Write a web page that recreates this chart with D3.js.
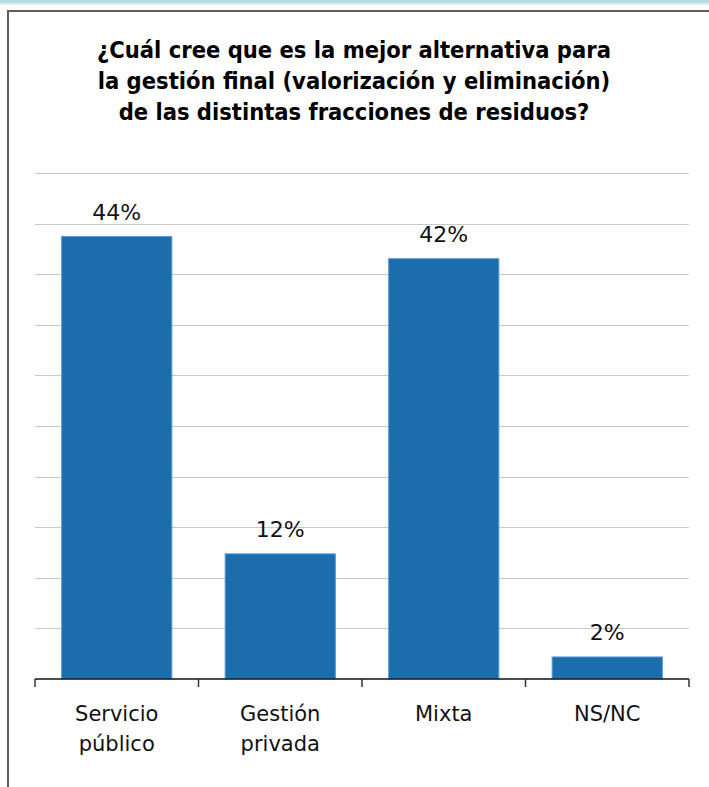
<!DOCTYPE html>
<html>
<head>
<meta charset="utf-8">
<script src="https://cdn.jsdelivr.net/npm/d3@7"></script>
<style>
  html, body { margin: 0; padding: 0; background: #fff; }
  svg { display: block; }
</style>
</head>
<body>
<svg id="chart" width="709" height="787"></svg>
<script>
// ---- data ----
const categories = [["Servicio", "público"], ["Gestión", "privada"], ["Mixta"], ["NS/NC"]];
const values = [43.8, 12.4, 41.6, 2.2];
const titleLines = [
  "¿Cuál cree que es la mejor alternativa para",
  "la gestión final (valorización y eliminación)",
  "de las distintas fracciones de residuos?"
];
const gridTicks = [5, 10, 15, 20, 25, 30, 35, 40, 45, 50];

// ---- layout ----
const W = 709, H = 787;
const svg = d3.select("#chart");

// top strip
svg.append("rect").attr("x", 0).attr("y", 0).attr("width", W).attr("height", 3).attr("fill", "#b3dcdf");
svg.append("rect").attr("x", 0).attr("y", 3).attr("width", W).attr("height", 2).attr("fill", "#e4eeef");

// frame
svg.append("path")
  .attr("d", `M8,${H} L8,11 L${W},11`)
  .attr("fill", "none").attr("stroke", "#5e5e5e").attr("stroke-width", 2);

const x = d3.scaleBand()
  .domain(d3.range(categories.length))
  .range([35, 689])
  .paddingInner(0.32)
  .paddingOuter(0.16);

const y = d3.scaleLinear().domain([0, 50]).range([678.7, 173.3]);

// gridlines
svg.append("g").selectAll("line").data(gridTicks).join("line")
  .attr("x1", 35).attr("x2", 689)
  .attr("y1", d => Math.round(y(d)) + 0.5).attr("y2", d => Math.round(y(d)) + 0.5)
  .attr("stroke", "#c9c9c9").attr("stroke-width", 1);

// bars
svg.append("g").selectAll("rect").data(values).join("rect")
  .attr("x", (d, i) => x(i) + 0.5)
  .attr("y", d => y(d) + 0.5)
  .attr("width", x.bandwidth() - 1)
  .attr("height", d => y(0) - y(d) - 0.5)
  .attr("fill", "#1b6dac")
  .attr("stroke", "#5b97d6")
  .attr("stroke-width", 1);

// value labels
const fmt = d => d3.format(".0f")(d) + "%";
svg.append("g").selectAll("text").data(values).join("text")
  .attr("x", (d, i) => x(i) + x.bandwidth() / 2)
  .attr("y", d => y(d) - 16)
  .attr("text-anchor", "middle")
  .attr("font-family", "DejaVu Sans, Verdana, sans-serif")
  .attr("font-size", 22)
  .attr("fill", "#111")
  .text(fmt);

// x axis
const xAxisScale = d3.scalePoint().domain(d3.range(categories.length + 1)).range([35, 689]);
const axisG = svg.append("g");
axisG.append("line")
  .attr("x1", 35).attr("x2", 689)
  .attr("y1", 679).attr("y2", 679)
  .attr("stroke", "#111").attr("stroke-width", 1.5);
axisG.selectAll("line.tick").data(xAxisScale.domain()).join("line")
  .attr("class", "tick")
  .attr("x1", d => xAxisScale(d)).attr("x2", d => xAxisScale(d))
  .attr("y1", 679).attr("y2", 687)
  .attr("stroke", "#333").attr("stroke-width", 1.5);

// category labels
const catG = svg.append("g").selectAll("text").data(categories).join("text")
  .attr("x", (d, i) => x(i) + x.bandwidth() / 2)
  .attr("y", 721)
  .attr("text-anchor", "middle")
  .attr("font-family", "DejaVu Sans, Verdana, sans-serif")
  .attr("font-size", 21)
  .attr("fill", "#111");
catG.each(function(d, i) {
  const t = d3.select(this);
  d.forEach((line, k) => {
    t.append("tspan")
      .attr("x", x(i) + x.bandwidth() / 2)
      .attr("dy", k === 0 ? 0 : 30)
      .text(line);
  });
});

// title
const title = svg.append("g").selectAll("text").data(titleLines).join("text")
  .attr("x", 354)
  .attr("y", (d, i) => 58 + i * 31)
  .attr("text-anchor", "middle")
  .attr("font-family", "DejaVu Sans Condensed, DejaVu Sans, sans-serif")
  .attr("font-stretch", "condensed")
  .attr("font-weight", "bold")
  .attr("font-size", 21)
  .attr("fill", "#000")
  .text(d => d);
// fit the first line to the reference width and scale all lines alike
const w1 = title.nodes()[0].getComputedTextLength();
if (w1 > 0) title.attr("font-size", 21 * 514 / w1);
</script>
</body>
</html>
